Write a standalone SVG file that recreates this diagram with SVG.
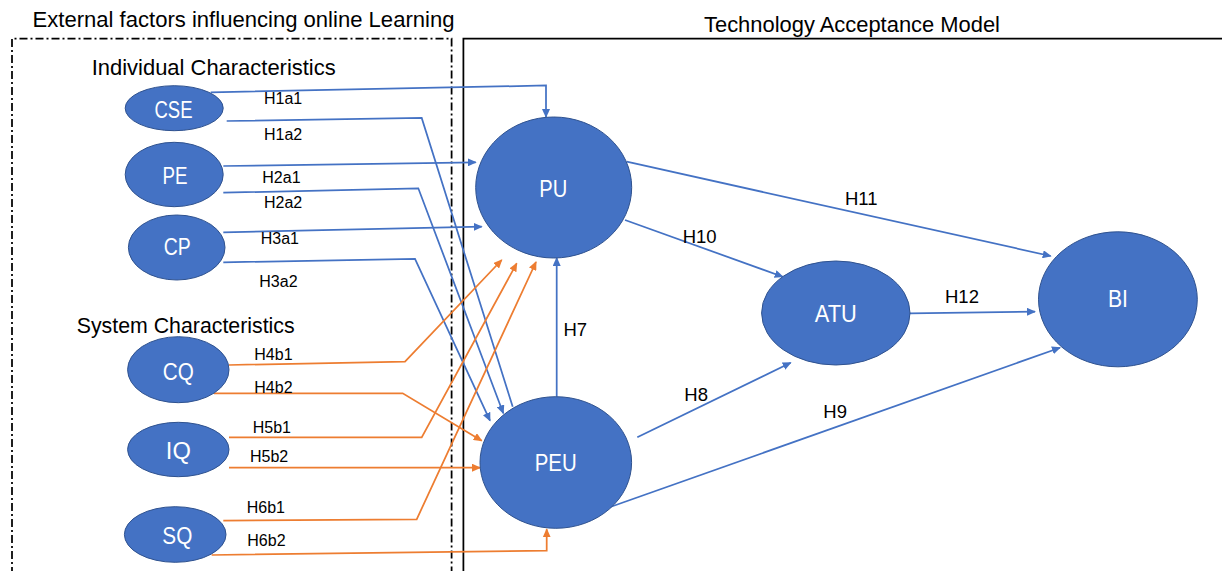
<svg xmlns="http://www.w3.org/2000/svg" width="1222" height="571" viewBox="0 0 1222 571">
  <style>
    .title { font-family: "Liberation Sans", Arial, sans-serif; font-size: 22px; fill: #000; }
    .node ellipse { fill: #4472C4; stroke: #2F528F; stroke-width: 1; }
    .node text { font-family: "Liberation Sans", Arial, sans-serif; font-size: 23px; fill: #fff; text-anchor: middle; }
    .lbl { font-family: "Liberation Sans", Arial, sans-serif; font-size: 16px; fill: #000; }
    .lbl-lg { font-family: "Liberation Sans", Arial, sans-serif; font-size: 18.5px; fill: #000; }
    .blue { fill: none; stroke: #4472C4; stroke-width: 1.75; stroke-linejoin: miter; }
    .orange { fill: none; stroke: #ED7D31; stroke-width: 1.75; stroke-linejoin: miter; }
    .blue.arr { marker-end: url(#arrow-blue); }
    .orange.arr { marker-end: url(#arrow-orange); }
    .frame { fill: none; stroke: #000; stroke-width: 1.75; }
    .dashdot { stroke-dasharray: 8 3 2 3; }
  </style>
  <defs>
    <marker id="arrow-blue" viewBox="0 0 9 8" refX="8" refY="4" markerWidth="9" markerHeight="8" markerUnits="userSpaceOnUse" orient="auto">
      <path d="M0,0 L9,4 L0,8 z" fill="#4472C4"/>
    </marker>
    <marker id="arrow-orange" viewBox="0 0 9 8" refX="8" refY="4" markerWidth="9" markerHeight="8" markerUnits="userSpaceOnUse" orient="auto">
      <path d="M0,0 L9,4 L0,8 z" fill="#ED7D31"/>
    </marker>
  </defs>

  <rect width="1222" height="571" fill="#fff"/>

  <!-- section frames and headings -->
  <g id="frames">
    <path class="frame dashdot" d="M12,575 L12,38.5 L451.6,38.5 L451.6,575"/>
    <path class="frame" d="M463.4,575 L463.4,38.5 L1225,38.5"/>
    <text class="title" x="32.5" y="26.7" textLength="422" lengthAdjust="spacingAndGlyphs">External factors influencing online Learning</text>
    <text class="title" x="704" y="31.5" textLength="296" lengthAdjust="spacingAndGlyphs">Technology Acceptance Model</text>
    <text class="title" x="91.7" y="75" textLength="244" lengthAdjust="spacingAndGlyphs">Individual Characteristics</text>
    <text class="title" x="76.7" y="333.3" textLength="218" lengthAdjust="spacingAndGlyphs">System Characteristics</text>
  </g>

  <!-- connectors -->
  <g id="connectors">
    <!-- individual characteristics -> PU / PEU -->
    <polyline class="blue arr" points="210.7,92.3 546,85.5 546,117"/>
    <polyline class="blue" points="226.7,121 421.7,118 512.7,406.7"/>
    <polyline class="blue arr" points="223.3,166 475.7,162.3"/>
    <polyline class="blue arr" points="223.3,192.7 418.3,188.3 503.3,413.3"/>
    <polyline class="blue arr" points="223.3,232.3 481.7,226.7"/>
    <polyline class="blue arr" points="223.3,262.3 415,259 490,420.7"/>

    <!-- system characteristics -> PU / PEU -->
    <polyline class="orange arr" points="229,365 405,361.7 501.7,260"/>
    <polyline class="orange arr" points="214,393.3 402.7,393.3 481.7,440.7"/>
    <polyline class="orange arr" points="229,437.3 421.7,437.3 516.7,263.3"/>
    <polyline class="orange arr" points="229,467.7 480,467.7"/>
    <polyline class="orange arr" points="223.3,520.7 416.7,519.3 536,262"/>
    <polyline class="orange arr" points="211.7,555 546.7,550.7 546.7,529.3"/>

    <!-- TAM core paths -->
    <line class="blue arr" x1="556.7" y1="396.7" x2="556.7" y2="258"/>
    <line class="blue arr" x1="626.7" y1="161.7" x2="1050.7" y2="256"/>
    <line class="blue arr" x1="625" y1="220" x2="782.7" y2="276.7"/>
    <line class="blue arr" x1="910" y1="313.3" x2="1035" y2="311.7"/>
    <line class="blue arr" x1="637.3" y1="437.3" x2="790.7" y2="362.7"/>
    <line class="blue arr" x1="606.7" y1="508.3" x2="1060" y2="347.7"/>

    <!-- hypothesis labels -->
    <text class="lbl" x="264" y="104.3">H1a1</text>
    <text class="lbl" x="264" y="140">H1a2</text>
    <text class="lbl" x="262.3" y="183.3">H2a1</text>
    <text class="lbl" x="264" y="208.3">H2a2</text>
    <text class="lbl" x="260.7" y="244.3">H3a1</text>
    <text class="lbl" x="259.3" y="286.7">H3a2</text>
    <text class="lbl" x="254.3" y="360">H4b1</text>
    <text class="lbl" x="254.3" y="393.3">H4b2</text>
    <text class="lbl" x="252.7" y="432.7">H5b1</text>
    <text class="lbl" x="250" y="462.3">H5b2</text>
    <text class="lbl" x="246.7" y="513.3">H6b1</text>
    <text class="lbl" x="247.3" y="546">H6b2</text>
    <text class="lbl-lg" x="563.5" y="335.7">H7</text>
    <text class="lbl-lg" x="684.3" y="400.7">H8</text>
    <text class="lbl-lg" x="823.3" y="418.3">H9</text>
    <text class="lbl-lg" x="682.7" y="243.3">H10</text>
    <text class="lbl-lg" x="845" y="205">H11</text>
    <text class="lbl-lg" x="945" y="303.3">H12</text>
  </g>

  <!-- nodes -->
  <g id="node-CSE" class="node">
    <ellipse cx="174.2" cy="108.2" rx="49" ry="22.5"/>
    <text x="173.5" y="117.7" textLength="38" lengthAdjust="spacingAndGlyphs">CSE</text>
  </g>
  <g id="node-PE" class="node">
    <ellipse cx="174.2" cy="174.5" rx="49" ry="32.2"/>
    <text x="175" y="184" textLength="25" lengthAdjust="spacingAndGlyphs">PE</text>
  </g>
  <g id="node-CP" class="node">
    <ellipse cx="176.7" cy="247.5" rx="48.3" ry="32.5"/>
    <text x="177.3" y="255" textLength="27" lengthAdjust="spacingAndGlyphs">CP</text>
  </g>
  <g id="node-CQ" class="node">
    <ellipse cx="178.3" cy="369.7" rx="50.7" ry="33"/>
    <text x="178.3" y="380" textLength="31" lengthAdjust="spacingAndGlyphs">CQ</text>
  </g>
  <g id="node-IQ" class="node">
    <ellipse cx="178.3" cy="449.5" rx="50.7" ry="27.2"/>
    <text x="178.3" y="459.3" textLength="25" lengthAdjust="spacingAndGlyphs">IQ</text>
  </g>
  <g id="node-SQ" class="node">
    <ellipse cx="175.2" cy="534.5" rx="50.8" ry="27.8"/>
    <text x="177.3" y="544.3" textLength="30" lengthAdjust="spacingAndGlyphs">SQ</text>
  </g>
  <g id="node-PU" class="node">
    <ellipse cx="553.7" cy="187.5" rx="78" ry="70.5"/>
    <text x="553.3" y="196.7" textLength="28" lengthAdjust="spacingAndGlyphs">PU</text>
  </g>
  <g id="node-PEU" class="node">
    <ellipse cx="555.8" cy="462.5" rx="75.8" ry="65.8"/>
    <text x="555.7" y="471" textLength="42" lengthAdjust="spacingAndGlyphs">PEU</text>
  </g>
  <g id="node-ATU" class="node">
    <ellipse cx="835.8" cy="313" rx="74.2" ry="52"/>
    <text x="835.8" y="321.7" textLength="42" lengthAdjust="spacingAndGlyphs">ATU</text>
  </g>
  <g id="node-BI" class="node">
    <ellipse cx="1117.9" cy="299.3" rx="79.4" ry="67.5"/>
    <text x="1117.9" y="307" textLength="20" lengthAdjust="spacingAndGlyphs">BI</text>
  </g>
</svg>
